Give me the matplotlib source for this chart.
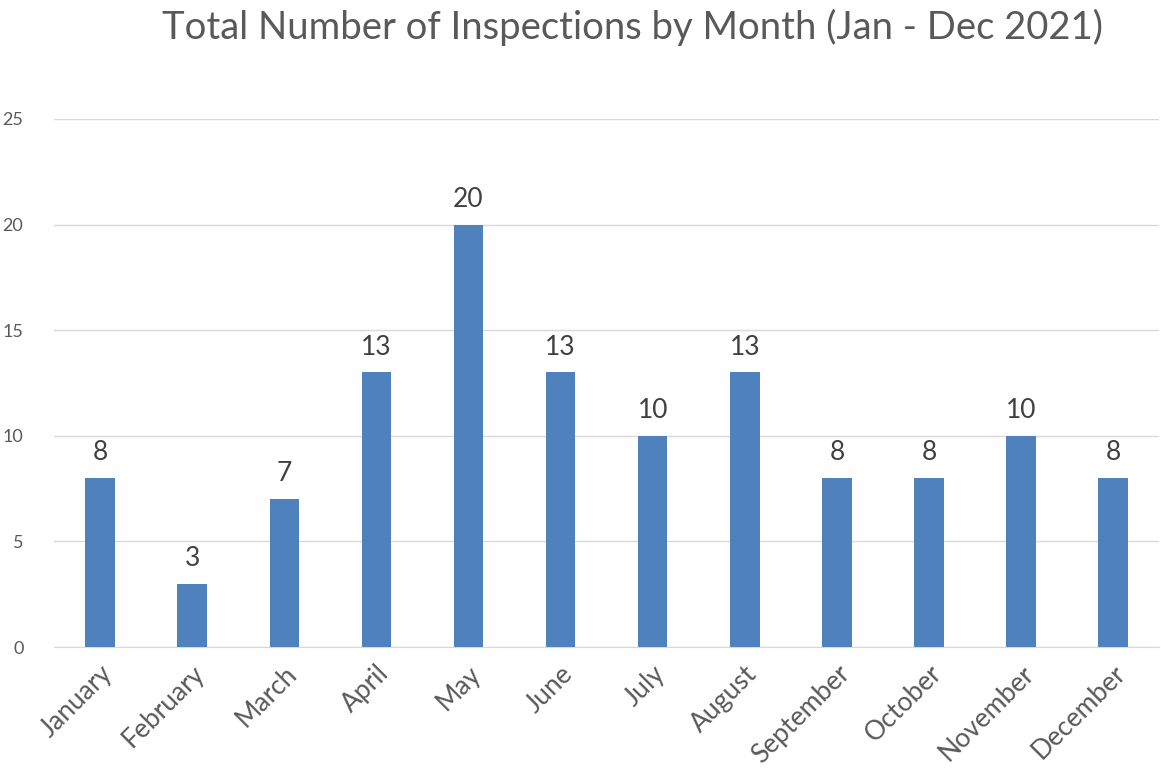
import matplotlib
matplotlib.use("Agg")
import matplotlib.pyplot as plt

months = ["January", "February", "March", "April", "May", "June", "July",
          "August", "September", "October", "November", "December"]
inspections = [8, 3, 7, 13, 20, 13, 10, 13, 8, 8, 10, 8]
yticks = [0, 5, 10, 15, 20, 25]

plt.rcParams['font.family'] = ['Lato', 'DejaVu Sans']
gray = "#595959"

fig = plt.figure(figsize=(11.61, 7.80), dpi=100)
ax = fig.add_axes([0.0465, 0.1705, 0.952, 0.677])
x = list(range(len(months)))
bars = ax.bar(x, inspections, width=0.32, color="#4F81BD", zorder=3)
for xi, v in zip(x, inspections):
    ax.text(xi, v + 0.6, str(v), ha="center", va="bottom", fontsize=19, color="#404040")

ax.set_xlim(-0.5, len(months) - 0.5)
ax.set_ylim(0, 25)
ax.set_yticks(yticks)
ax.set_yticklabels([str(t) for t in yticks], fontsize=13, color=gray)
ax.set_xticks(x)
ax.set_xticklabels(months, rotation=45, ha="right", rotation_mode="anchor",
                   fontsize=19, color=gray)
ax.tick_params(axis="both", length=0)
ax.tick_params(axis="y", pad=22)
ax.tick_params(axis="x", pad=10)
ax.grid(axis="y", color="#D9D9D9", linewidth=1, zorder=0)
for s in ["top", "right", "left"]:
    ax.spines[s].set_visible(False)
ax.spines["bottom"].set_color("#D9D9D9")

fig.text(0.545, 0.965, "Total Number of Inspections by Month (Jan - Dec 2021)",
         ha="center", va="center", fontsize=27.5, color=gray)

fig.savefig("out.png", dpi=100)
